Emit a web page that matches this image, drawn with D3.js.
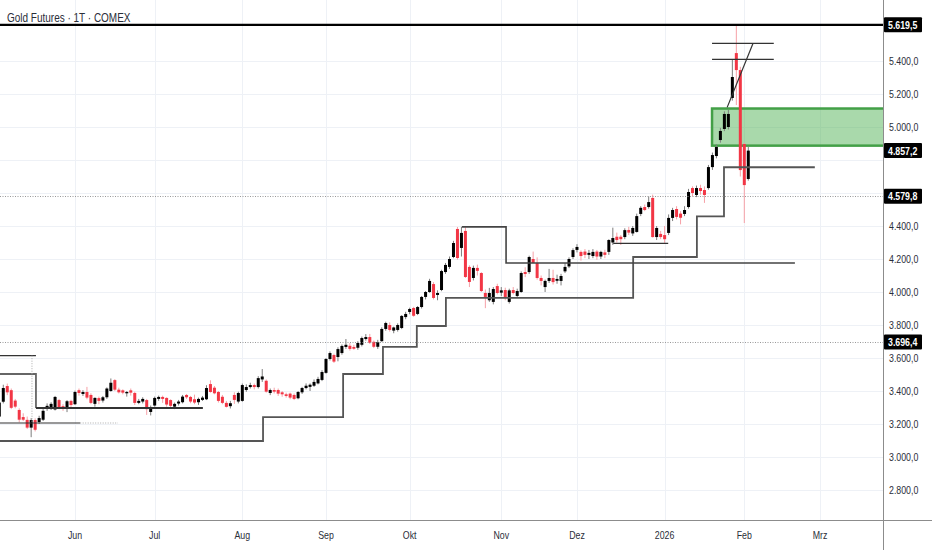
<!DOCTYPE html>
<html>
<head>
<meta charset="utf-8">
<script src="https://cdn.jsdelivr.net/npm/d3@7"></script>
<style>
html, body { margin: 0; padding: 0; background: #fff; }
svg { display: block; }
text { font-family: "Liberation Sans", Arial, sans-serif; }
</style>
</head>
<body>
<svg id="chart" width="932" height="550"></svg>
<script>
// daily bars, Gold Futures (COMEX), 5 May 2025 .. 3 Feb 2026 : [open, high, low, close]
var ohlc = [
  [3245,3340,3235,3330],[3335,3438,3325,3418],[3430,3445,3375,3392],[3405,3415,3290,3298],
  [3342,3352,3295,3305],[3285,3295,3210,3226],[3242,3265,3218,3226],[3225,3245,3170,3178],
  [3178,3236,3120,3224],[3224,3234,3155,3165],[3212,3250,3200,3236],[3226,3290,3218,3280],
  [3297,3325,3280,3310],[3300,3332,3285,3322],[3288,3370,3282,3364],[3345,3352,3290,3298],
  [3308,3320,3280,3292],[3296,3345,3272,3338],[3340,3347,3292,3315],[3320,3402,3315,3394],
  [3405,3415,3372,3388],[3382,3405,3370,3394],[3394,3425,3350,3360],[3376,3386,3320,3328],
  [3322,3362,3305,3358],[3357,3366,3320,3340],[3342,3370,3330,3362],[3362,3422,3352,3415],
  [3400,3476,3395,3450],[3466,3472,3400,3408],[3408,3420,3385,3392],[3404,3410,3380,3390],
  [3386,3400,3366,3394],[3404,3415,3372,3390],[3388,3396,3315,3328],[3328,3352,3320,3340],
  [3336,3362,3325,3352],[3345,3352,3255,3290],[3273,3312,3252,3303],[3312,3366,3305,3358],
  [3352,3372,3340,3364],[3364,3372,3328,3352],[3358,3362,3305,3318],[3345,3350,3292,3310],
  [3305,3330,3290,3322],[3324,3346,3312,3336],[3332,3376,3325,3366],[3376,3382,3352,3362],
  [3364,3370,3326,3336],[3350,3378,3320,3330],[3332,3360,3316,3352],[3346,3370,3340,3360],
  [3350,3435,3345,3418],[3442,3465,3390,3394],[3420,3430,3380,3386],[3394,3400,3330,3340],
  [3365,3376,3320,3328],[3328,3340,3300,3304],[3308,3340,3294,3326],[3376,3392,3322,3346],
  [3336,3396,3325,3388],[3340,3445,3335,3436],[3406,3440,3395,3424],[3424,3450,3415,3436],
  [3436,3445,3410,3424],[3424,3490,3415,3478],[3470,3533,3455,3488],[3462,3470,3390,3396],
  [3388,3415,3375,3406],[3406,3420,3385,3396],[3406,3415,3370,3384],[3392,3400,3365,3380],
  [3380,3390,3360,3370],[3384,3390,3350,3360],[3376,3385,3345,3352],[3356,3400,3350,3394],
  [3392,3425,3382,3418],[3418,3446,3410,3432],[3425,3446,3400,3438],[3432,3470,3425,3455],
  [3446,3486,3440,3473],[3467,3526,3460,3515],[3510,3600,3505,3594],[3594,3640,3585,3630],
  [3618,3626,3570,3578],[3606,3665,3580,3654],[3630,3682,3620,3673],[3667,3715,3655,3680],
  [3674,3690,3645,3655],[3667,3680,3650,3656],[3662,3702,3650,3691],[3680,3730,3670,3721],
  [3715,3745,3705,3727],[3727,3746,3685,3692],[3698,3706,3660,3668],[3668,3710,3655,3697],
  [3702,3786,3698,3776],[3776,3820,3765,3812],[3800,3816,3760,3770],[3766,3790,3750,3785],
  [3770,3810,3760,3800],[3782,3860,3775,3855],[3848,3880,3835,3867],[3879,3905,3865,3897],
  [3903,3910,3850,3856],[3867,3915,3860,3909],[3909,3976,3900,3970],[3970,4006,3955,4000],
  [4000,4080,3995,4067],[4048,4060,3955,3964],[3982,4010,3950,3994],[4012,4135,4005,4127],
  [4121,4176,4110,4164],[4152,4215,4140,4200],[4212,4310,4205,4297],[4382,4394,4196,4206],
  [4267,4394,4215,4358],[4370,4392,4085,4091],[4152,4162,4030,4061],[4085,4160,4070,4146],
  [4146,4166,4100,4128],[4115,4120,4000,4006],[3994,4015,3902,3970],[3950,4025,3940,3994],
  [3940,4030,3925,4018],[4036,4050,3985,3994],[3996,4030,3975,4010],[4012,4026,3950,3964],
  [3940,4020,3930,4010],[4012,4030,3985,3994],[3976,4020,3965,4006],[4000,4125,3995,4115],
  [4121,4150,4090,4109],[4121,4220,4110,4212],[4200,4245,4175,4176],[4176,4210,4075,4085],
  [4085,4100,4040,4067],[4030,4075,4000,4067],[4067,4140,4055,4085],[4085,4135,4045,4060],
  [4068,4105,4050,4079],[4067,4110,4040,4097],[4125,4175,4115,4152],[4155,4210,4145,4200],
  [4212,4265,4200,4254],[4255,4290,4240,4273],[4243,4252,4190,4218],[4245,4260,4205,4225],
  [4225,4255,4200,4237],[4218,4260,4205,4243],[4245,4255,4195,4215],[4215,4250,4200,4243],
  [4240,4256,4205,4225],[4243,4320,4225,4315],[4300,4390,4285,4327],[4335,4360,4300,4315],
  [4335,4345,4285,4320],[4333,4386,4320,4375],[4376,4395,4345,4360],[4355,4400,4340,4388],
  [4364,4475,4360,4460],[4473,4520,4460,4510],[4515,4530,4490,4497],[4515,4580,4505,4545],
  [4570,4590,4330,4333],[4333,4400,4315,4388],[4352,4370,4320,4333],[4345,4400,4298,4320],
  [4358,4470,4345,4449],[4449,4510,4430,4497],[4503,4520,4440,4455],[4475,4490,4410,4450],
  [4473,4520,4460,4497],[4515,4625,4505,4606],[4630,4640,4580,4600],[4588,4645,4575,4630],
  [4630,4650,4590,4612],[4618,4640,4540,4588],[4630,4770,4620,4757],[4757,4845,4740,4830],
  [4824,4895,4810,4879],[4921,4995,4905,4976],[4988,5095,4975,5079],[5000,5105,4985,5079],
  [5176,5410,5160,5303],[5448,5620,5133,5345],[5345,5365,4700,4739],[4897,4905,4418,4648],
  [4685,4880,4675,4857]
];

var holidays = ["2025-05-26","2025-06-19","2025-07-04","2025-09-01","2025-11-27",
                "2025-12-25","2026-01-01","2026-01-19","2026-02-16"];
var monthNames = ["Jan","Feb","Mrz","Apr","Mai","Jun","Jul","Aug","Sep","Okt","Nov","Dez"];
var priceTicks = [2800,3000,3200,3400,3600,3800,4000,4200,4400,4600,4800,5000,5200,5400];

// marked price levels (label boxes on the price scale)
var athLevel = 5619.5;
var dottedLevels = [4579.8, 3696.4];
var priceMarkers = [5619.5, 4857.2, 4579.8, 3696.4];

// drawings, in [bar index, price]
var zoneBars = [178.9];
var zonePrices = [5112, 4887];
var stepLow = [[-1,3097],[66.2,3097],[66.2,3242],[86.3,3242],[86.3,3503],[96.3,3503],
  [96.3,3667],[104.8,3667],[104.8,3794],[112.1,3794],[112.1,3964],[159.1,3964],
  [159.1,4212],[175.1,4212],[175.1,4458],[181.9,4458],[181.9,4756],[204.7,4756]];
var stepHigh = [[116.1,4395],[127.2,4395],[127.2,4176],[199.7,4176]];
var earlyStep = [[-1,3503],[9.2,3503],[9.2,3297]];
var earlyBase = [[9.2,3297],[51.1,3297]];
var thinLines = [
  [[178.9,5507],[194.4,5507]],
  [[178.9,5410],[194.4,5410]],
  [[182.7,5119],[189.2,5507]],
  [[154.1,4295],[167.9,4295]],
  [[-1,3614],[9.2,3614]],
  [[-1,3206],[20.3,3206]]
];
var dottedLines = [
  [[20.3,3206],[29.8,3206]],
  [[8.2,3614],[8.2,3206]]
];

var W = 932, H = 550, plotW = 883, plotH = 520;
var squeeze = 0.8;   // the screenshot's type is narrow
var svg = d3.select("#chart");

// trading days (weekdays without exchange holidays) up to March 2026
var days = d3.timeDay.range(new Date(2025, 4, 5), new Date(2026, 2, 10))
  .filter(function(d) {
    var wd = d.getDay();
    return wd !== 0 && wd !== 6 && holidays.indexOf(d3.timeFormat("%Y-%m-%d")(d)) === -1;
  });

var x = d3.scaleLinear().domain([0, 206]).range([-0.7, 820]);
var y = d3.scaleLinear().domain([5400, 2800]).range([61, 490]);

var monthTicks = [];
days.forEach(function(d, i) {
  if (i > 0 && d.getMonth() !== days[i - 1].getMonth()) {
    monthTicks.push({
      index: i,
      label: d.getMonth() === 0 ? String(d.getFullYear()) : monthNames[d.getMonth()]
    });
  }
});

var fmt = function(v) {
  return d3.format(",.1f")(v).replace(/,/g, "#").replace(".", ",").replace(/#/g, ".");
};
var at = function(px, py) {
  return "translate(" + px + "," + py + ") scale(" + squeeze + ",1)";
};

svg.append("rect").attr("width", W).attr("height", H).attr("fill", "#fff");

svg.append("defs").append("clipPath").attr("id", "plot-clip")
  .append("rect").attr("width", plotW).attr("height", plotH);

var plot = svg.append("g").attr("clip-path", "url(#plot-clip)");

// grid
plot.selectAll(".hgrid").data(priceTicks).enter().append("line")
  .attr("x1", 0).attr("x2", plotW)
  .attr("y1", function(d) { return Math.round(y(d)) + 0.5; })
  .attr("y2", function(d) { return Math.round(y(d)) + 0.5; })
  .attr("stroke", "#eef1f6");
plot.selectAll(".vgrid").data(monthTicks).enter().append("line")
  .attr("y1", 0).attr("y2", plotH)
  .attr("x1", function(d) { return Math.round(x(d.index)) + 0.5; })
  .attr("x2", function(d) { return Math.round(x(d.index)) + 0.5; })
  .attr("stroke", "#eef1f6");

// demand zone
plot.append("rect")
  .attr("x", x(zoneBars[0]))
  .attr("y", y(zonePrices[0]))
  .attr("width", plotW - x(zoneBars[0]) + 2)
  .attr("height", y(zonePrices[1]) - y(zonePrices[0]))
  .attr("fill", "#4caf50").attr("fill-opacity", 0.48)
  .attr("stroke", "#43a047").attr("stroke-width", 2.5);

// candles
var bars = plot.selectAll(".candle").data(ohlc).enter().append("g")
  .attr("class", "candle");
bars.append("line")
  .attr("x1", function(d, i) { return x(i); })
  .attr("x2", function(d, i) { return x(i); })
  .attr("y1", function(d) { return y(d[1]); })
  .attr("y2", function(d) { return y(d[2]); })
  .attr("stroke", function(d) { return d[3] >= d[0] ? "#7d7d7d" : "#f6a0a7"; })
  .attr("stroke-width", 1);
bars.append("rect")
  .attr("x", function(d, i) { return x(i) - 1.5; })
  .attr("width", 3)
  .attr("y", function(d) { return y(Math.max(d[0], d[3])); })
  .attr("height", function(d) { return Math.max(1, Math.abs(y(d[0]) - y(d[3]))); })
  .attr("fill", function(d) { return d[3] >= d[0] ? "#000" : "#f23645"; });

// drawings
var line = d3.line()
  .x(function(p) { return x(p[0]); })
  .y(function(p) { return y(p[1]); });

plot.append("path").attr("d", line(stepLow))
  .attr("fill", "none").attr("stroke", "#555").attr("stroke-width", 1.8);
plot.append("path").attr("d", line(stepHigh))
  .attr("fill", "none").attr("stroke", "#444").attr("stroke-width", 1.6);
plot.append("path").attr("d", line(earlyStep))
  .attr("fill", "none").attr("stroke", "#666").attr("stroke-width", 1.8);
plot.append("path").attr("d", line(earlyBase))
  .attr("fill", "none").attr("stroke", "#333").attr("stroke-width", 2);
plot.selectAll(".thin").data(thinLines).enter().append("path")
  .attr("d", line)
  .attr("fill", "none").attr("stroke", "#333").attr("stroke-width", 1.2);
plot.selectAll(".dotted").data(dottedLines).enter().append("path")
  .attr("d", line)
  .attr("fill", "none").attr("stroke", "#aaa").attr("stroke-width", 1)
  .attr("stroke-dasharray", "1,1.5");

plot.selectAll(".level").data(dottedLevels).enter().append("line")
  .attr("x1", 0).attr("x2", plotW)
  .attr("y1", function(d) { return Math.round(y(d)) + 0.5; })
  .attr("y2", function(d) { return Math.round(y(d)) + 0.5; })
  .attr("stroke", "#999").attr("stroke-dasharray", "1,1.5");

plot.append("line")
  .attr("x1", 0).attr("x2", plotW)
  .attr("y1", y(athLevel)).attr("y2", y(athLevel))
  .attr("stroke", "#000").attr("stroke-width", 2.2);

// axes frame
svg.append("line").attr("x1", plotW + 0.5).attr("x2", plotW + 0.5)
  .attr("y1", 0).attr("y2", H).attr("stroke", "#8c8c8c");
svg.append("line").attr("x1", 0).attr("x2", W)
  .attr("y1", plotH + 0.5).attr("y2", plotH + 0.5).attr("stroke", "#8c8c8c");

// price scale: tick labels that sit under a marker box are left out
var freeTicks = priceTicks.filter(function(t) {
  return priceMarkers.every(function(m) { return Math.abs(y(t) - y(m)) > 12; });
});
svg.selectAll(".ptick").data(freeTicks).enter().append("text")
  .attr("transform", function(d) { return at(889, y(d) + 4); })
  .attr("font-size", 11).attr("fill", "#2a2e39")
  .text(fmt);

var markers = svg.selectAll(".marker").data(priceMarkers).enter().append("g")
  .attr("transform", function(d) { return "translate(884," + y(d) + ")"; });
markers.append("rect")
  .attr("x", 0).attr("y", -7.5).attr("width", 38).attr("height", 15)
  .attr("rx", 1).attr("fill", "#000");
markers.append("text")
  .attr("transform", at(4, 4))
  .attr("font-size", 11).attr("font-weight", "bold").attr("fill", "#fff")
  .text(fmt);

// time scale
svg.selectAll(".ttick").data(monthTicks.filter(function(d) { return x(d.index) < plotW; }))
  .enter().append("text")
  .attr("transform", function(d) { return at(x(d.index), 539); })
  .attr("text-anchor", "middle")
  .attr("font-size", 11).attr("fill", "#2a2e39")
  .text(function(d) { return d.label; });

// title
svg.append("text")
  .attr("transform", at(7, 22))
  .attr("font-size", 12.5).attr("fill", "#2a2e39")
  .text("Gold Futures \u00b7 1T \u00b7 COMEX");
</script>
</body>
</html>
